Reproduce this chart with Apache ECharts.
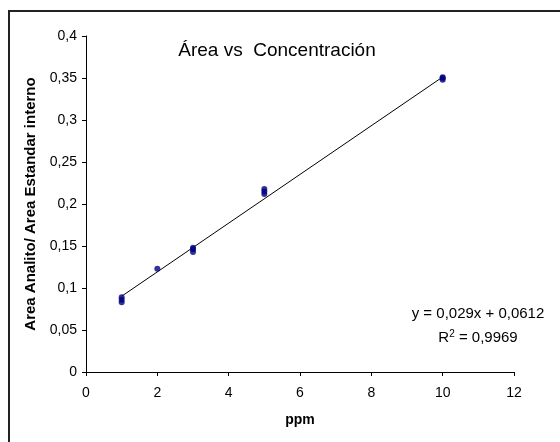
<!DOCTYPE html>
<html>
<head>
<meta charset="utf-8">
<script src="https://cdn.jsdelivr.net/npm/echarts@6/dist/echarts.min.js"></script>
<style>html,body{margin:0;padding:0;background:#fff}#c{width:560px;height:442px}</style>
</head>
<body>
<div id="c"></div>
<script>
// Data
var ppm = [1, 1, 1, 2, 3, 3, 3, 5, 5, 5, 10, 10, 10];
var ratio = [0.083, 0.086, 0.089, 0.123, 0.143, 0.146, 0.148, 0.212, 0.215, 0.218, 0.348, 0.350, 0.351];
var slope = 0.029;
var intercept = 0.0612;
var trendX = [1, 10];
var titleText = 'Área vs  Concentración';
var eqText = 'y = 0,029x + 0,0612';
var r2Text = '0,9969';
var xName = 'ppm';
var yName = 'Area Analito/ Area Estandar interno';

var pts = ppm.map(function (x, i) { return [x, ratio[i]]; });
var trend = trendX.map(function (x) { return [x, slope * x + intercept]; });
function comma(v) { return String(Math.round(v * 1000) / 1000).replace('.', ','); }

var FONT = 'Liberation Sans, Arial, sans-serif';
var chart = echarts.init(document.getElementById('c'), null, { renderer: 'canvas' });
chart.setOption({
  animation: false,
  backgroundColor: '#fff',
  textStyle: { fontFamily: FONT },
  grid: { left: 86, right: 46, top: 36, bottom: 70 },
  graphic: [
    { type: 'rect', shape: { x: 9, y: 11, width: 600, height: 500 }, style: { fill: 'none', stroke: '#222', lineWidth: 2 }, silent: true, z: 0 },
    { type: 'text', style: { text: titleText, x: 277, y: 51, align: 'center', verticalAlign: 'middle', font: '19px ' + FONT, fill: '#000' } },
    { type: 'text', style: { text: eqText, x: 478, y: 314, align: 'center', verticalAlign: 'middle', font: '15px ' + FONT, fill: '#000' } },
    { type: 'text', style: { text: '{n|R}{s|2}{n| = ' + r2Text + '}', x: 478, y: 337, align: 'center', verticalAlign: 'middle', rich: { n: { fontSize: 15, fontFamily: FONT, color: '#000', verticalAlign: 'bottom' }, s: { fontSize: 10, fontFamily: FONT, color: '#000', verticalAlign: 'top', padding: [0, 0, 6, 0] } } } }
  ],
  xAxis: {
    type: 'value', min: 0, max: 12, interval: 2,
    name: xName, nameLocation: 'middle', nameGap: 41,
    nameTextStyle: { fontWeight: 'bold', fontSize: 14, color: '#000', fontFamily: FONT },
    axisLine: { onZero: false, lineStyle: { color: '#000', width: 1 } },
    axisTick: { show: true, length: 4, lineStyle: { color: '#000' } },
    axisLabel: { color: '#000', fontSize: 14, margin: 14, fontFamily: FONT },
    splitLine: { show: false }
  },
  yAxis: {
    type: 'value', min: 0, max: 0.4, interval: 0.05,
    name: yName, nameLocation: 'middle', nameGap: 38,
    nameTextStyle: { fontWeight: 'bold', fontSize: 15, color: '#000', fontFamily: FONT },
    axisLine: { show: true, lineStyle: { color: '#000', width: 1 } },
    axisTick: { show: true, length: 4, lineStyle: { color: '#000' } },
    axisLabel: { color: '#000', fontSize: 14, margin: 9, fontFamily: FONT, formatter: comma },
    splitLine: { show: false }
  },
  series: [
    { type: 'line', data: trend, symbol: 'none', lineStyle: { color: '#000', width: 1 }, z: 2 },
    { type: 'scatter', data: pts, symbol: 'circle', symbolSize: 6, itemStyle: { color: '#000080' }, z: 3 }
  ]
});
</script>
</body>
</html>
